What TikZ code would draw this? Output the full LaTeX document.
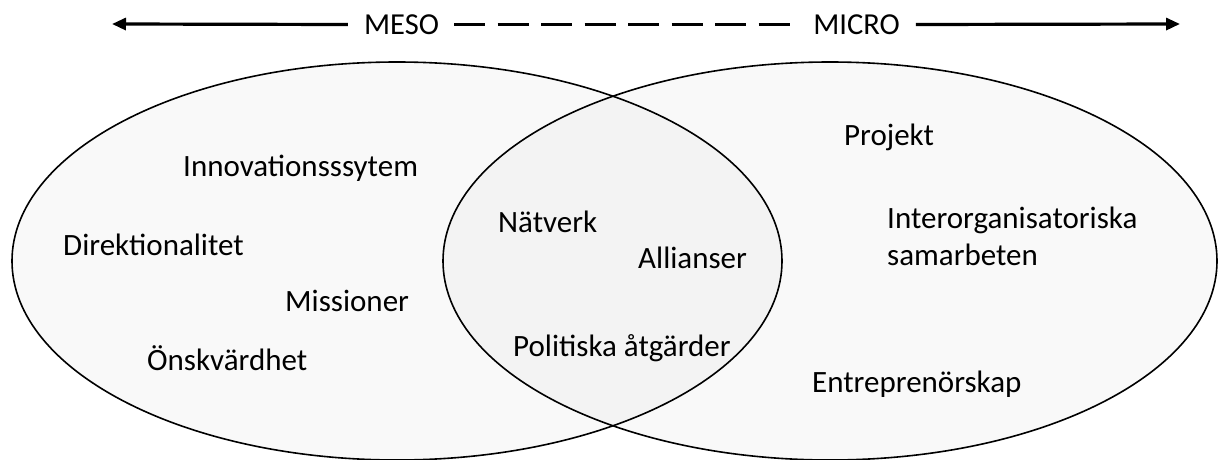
\documentclass[tikz,border=0pt]{standalone}
\usepackage{fontspec}
\setmainfont{Carlito}
\usetikzlibrary{arrows.meta}
\definecolor{rfill}{HTML}{F9F9F9}
\tikzset{
  lbl/.style={inner sep=0pt, anchor=base west, font=\fontsize{31}{37}\selectfont},
  scalelbl/.style={inner xsep=16pt, inner ysep=0pt, font=\fontsize{30.5}{37}\selectfont},
  axis/.style={line width=3.2pt, -{Triangle[length=14pt,width=12pt]}},
  setline/.style={line width=1.6pt}
}
\begin{document}
\begin{tikzpicture}[x=1pt,y=-1pt]
\useasboundingbox (0,0) rectangle (1223,460);
% ellipses
\draw[setline, fill=rfill] (830,261) ellipse [x radius=387pt, y radius=199pt];
\draw[setline, fill=black, fill opacity=0.022] (397,261) ellipse [x radius=385pt, y radius=199pt];
% top scale
\node[scalelbl] (meso) at (401.5,24.5) {MESO};
\node[scalelbl] (micro) at (856.5,24.5) {MICRO};
\coordinate (lt) at (112,24);
\coordinate (rt) at (1180,24);
\draw[axis] (meso.west) -- (lt);
\draw[axis] (micro.east) -- (rt);
\draw[line width=3.2pt, dash pattern=on 31pt off 12.5pt] ([xshift=-1pt]meso.east) -- ([xshift=-6pt]micro.west);
% left labels
\node[lbl] (inno) at (183,176) {Innovationsssytem};
\node[lbl] (dir) at (63,255) {Direktionalitet};
\node[lbl] (mis) at (285,311) {Missioner};
\node[lbl] (onsk) at (147,370) {Önskvärdhet};
% middle labels
\node[lbl] (nat) at (498,232) {Nätverk};
\node[lbl] (all) at (638,268) {Allianser};
\node[lbl] (pol) at (513,356) {Politiska åtgärder};
% right labels
\node[lbl] (proj) at (844,145) {Projekt};
\node[lbl, align=left] (inter) at (887,265) {Interorganisatoriska\\samarbeten};
\node[lbl] (entr) at (812,392) {Entreprenörskap};
\end{tikzpicture}
\end{document}
